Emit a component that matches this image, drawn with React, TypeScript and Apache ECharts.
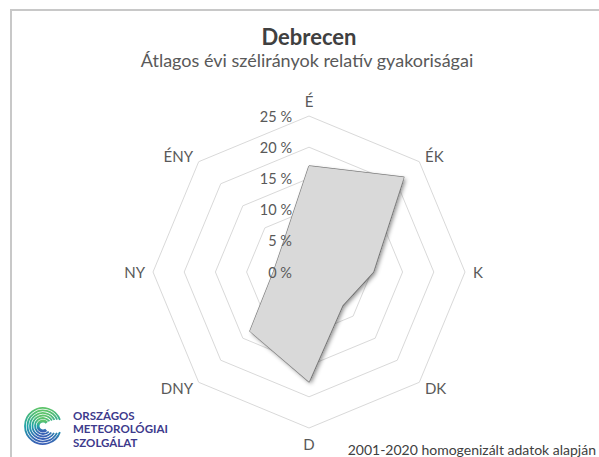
import React, { useEffect, useRef } from "react";
import * as echarts from "echarts";

const directions = ["É", "ÉK", "K", "DK", "D", "DNY", "NY", "ÉNY"];
const frequencies = [17.0, 21.5, 10.3, 7.6, 17.6, 13.4, 5.7, 6.0];
const tickValues = [0, 5, 10, 15, 20, 25];
const titleText = "Debrecen";
const subtitleText = "Átlagos évi szélirányok relatív gyakoriságai";
const footerText = "2001-2020 homogenizált adatok alapján";
const logoLines = ["ORSZÁGOS", "METEOROLÓGIAI", "SZOLGÁLAT"];

const FONT = "Lato, 'Open Sans', sans-serif";

export default function App() {
  const ref = useRef<HTMLDivElement>(null);
  useEffect(() => {
    document.body.style.margin = "0";
    if (!ref.current) return;
    const chart = echarts.init(ref.current, undefined, { renderer: "svg" });

    // ECharts radar lays indicators counter-clockwise; reorder so they appear clockwise
    const order = [0, 7, 6, 5, 4, 3, 2, 1];
    const maxV = tickValues[tickValues.length - 1];
    const indicators = order.map((i) => ({ name: directions[i], min: 0, max: maxV }));
    const values = order.map((i) => frequencies[i]);

    const labelIndicators = order.map((i, k) => ({
      name: directions[i],
      min: 0,
      max: maxV,
      axisLabel: { show: k === 0 },
    }));

    const grad = {
      type: "linear",
      x: 0,
      y: 0,
      x2: 0,
      y2: 1,
      colorStops: [
        { offset: 0, color: "#5ec46a" },
        { offset: 0.5, color: "#1fa3a8" },
        { offset: 1, color: "#3a5fb5" },
      ],
    };
    const arcs: any[] = [];
    const radii = [5, 8, 10.5, 13, 15.5, 18];
    radii.forEach((r, i) => {
      arcs.push({
        type: "arc",
        shape: {
          cx: 43,
          cy: 426,
          r,
          startAngle: (Math.PI / 180) * (50 - i * 6),
          endAngle: (Math.PI / 180) * (320 + i * 4),
          clockwise: true,
        },
        style: { stroke: grad, lineWidth: i === 0 ? 3 : 1.8, fill: "none" },
      });
    });

    chart.setOption({
      animation: false,
      backgroundColor: "#ffffff",
      title: [
        {
          text: titleText,
          left: 309,
          top: 25,
          textAlign: "center",
          padding: 0,
          textStyle: { fontFamily: FONT, fontSize: 22, fontWeight: "bold", color: "#404040" },
        },
        {
          text: subtitleText,
          left: 307,
          top: 51,
          textAlign: "center",
          padding: 0,
          textStyle: { fontFamily: FONT, fontSize: 18, fontWeight: "normal", color: "#595959" },
        },
      ],
      radar: [
        {
          center: [309, 272],
          radius: 156,
          startAngle: 90,
          shape: "polygon",
          splitNumber: 5,
          indicator: indicators,
          axisName: { color: "#595959", fontSize: 15, fontFamily: FONT },
          nameGap: 8,
          axisLine: { show: false },
          axisTick: { show: false },
          axisLabel: { show: false },
          splitArea: { show: false },
          splitLine: { lineStyle: { color: "#d9d9d9", width: 1 } },
          z: 0,
        },
        {
          center: [309, 272],
          radius: 156,
          startAngle: 90,
          shape: "polygon",
          splitNumber: 5,
          indicator: labelIndicators,
          axisName: { show: false },
          axisLine: { show: false },
          axisTick: { show: false },
          axisLabel: {
            show: true,
            margin: 17,
            color: "#595959",
            fontSize: 14.5,
            fontFamily: FONT,
            formatter: (v: number) => `${v} %`,
          },
          splitArea: { show: false },
          splitLine: { show: false },
          z: 10,
        },
      ],
      series: [
        {
          type: "radar",
          radarIndex: 0,
          symbol: "none",
          data: [
            {
              value: values,
              name: titleText,
              lineStyle: { color: "#808080", width: 1.3 },
              areaStyle: {
                color: "#d9d9d9",
                opacity: 1,
                shadowColor: "rgba(0,0,0,0.45)",
                shadowBlur: 4,
                shadowOffsetX: 2,
                shadowOffsetY: 2,
              },
            },
          ],
          z: 2,
        },
      ],
      graphic: [
        {
          type: "rect",
          shape: { x: 11, y: 10, width: 600, height: 460 },
          style: { fill: "none", stroke: "#c8c8c8", lineWidth: 2 },
          z: 0,
        },
        ...arcs,
        ...logoLines.map((t, i) => ({
          type: "text",
          x: 73,
          y: 415 + i * 13.5,
          style: {
            text: t,
            fill: "#3d3a8c",
            font: `bold 11.5px ${FONT}`,
            textVerticalAlign: "middle",
          },
        })),
        {
          type: "text",
          x: 596,
          y: 449,
          style: {
            text: footerText,
            fill: "#404040",
            font: `14px ${FONT}`,
            textAlign: "right",
            textVerticalAlign: "middle",
          },
        },
      ],
    });
    return () => chart.dispose();
  }, []);
  return <div ref={ref} style={{ width: 599, height: 457 }} />;
}
